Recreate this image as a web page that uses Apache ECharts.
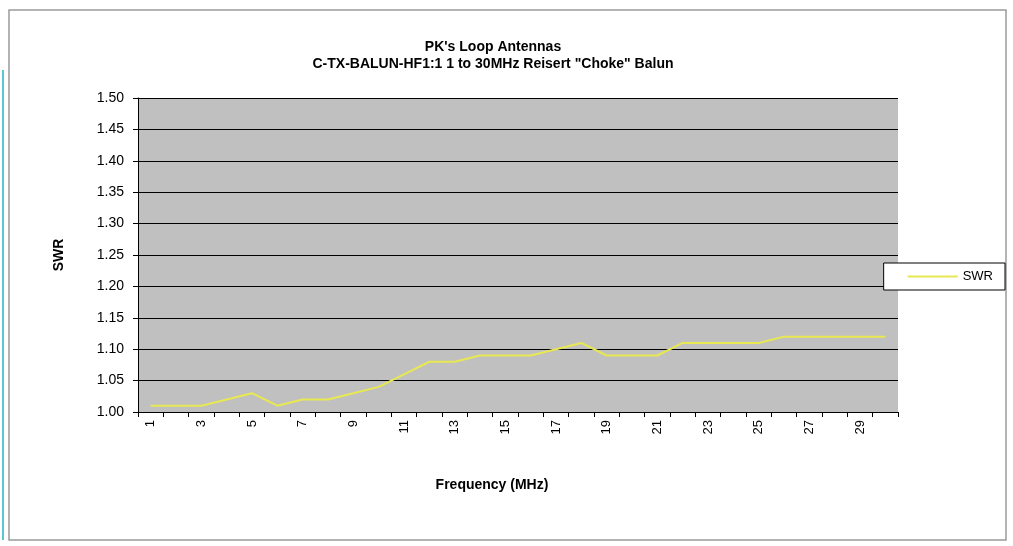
<!DOCTYPE html>
<html><head><meta charset="utf-8">
<script src="https://cdn.jsdelivr.net/npm/echarts@6/dist/echarts.min.js"></script>
<style>html,body{margin:0;padding:0;background:#fff;}#c{width:1013px;height:546px;}</style>
</head><body><div id="c"></div>
<script>
const categories = ['1','2','3','4','5','6','7','8','9','10','11','12','13','14','15','16','17','18','19','20','21','22','23','24','25','26','27','28','29','30'];
const swr = [1.01,1.01,1.01,1.02,1.03,1.01,1.02,1.02,1.03,1.04,1.06,1.08,1.08,1.09,1.09,1.09,1.10,1.11,1.09,1.09,1.09,1.11,1.11,1.11,1.11,1.12,1.12,1.12,1.12,1.12];
const yTicks = {min:1.0, max:1.5, interval:0.05};

const chart = echarts.init(document.getElementById('c'));
const font = 'Arial, "Liberation Sans", sans-serif';
chart.setOption({
  animation:false,
  backgroundColor:'#fff',
  graphic:[
    {type:'rect', shape:{x:9,y:10,width:997,height:530}, style:{fill:'none', stroke:'#9a9a9a', lineWidth:1.5}, z:-1},
    {type:'rect', shape:{x:2,y:70,width:2,height:470}, style:{fill:'#5bc8d0'}, z:-1}
  ],
  title:{
    text:"PK's Loop Antennas\nC-TX-BALUN-HF1:1 1 to 30MHz Reisert \"Choke\" Balun",
    left:488, textAlign:'center', top:34,
    textStyle:{fontFamily:font, fontSize:14, fontWeight:'bold', color:'#000', lineHeight:17}
  },
  legend:{
    right:8, top:263, orient:'vertical',
    backgroundColor:'#fff', borderColor:'#000', borderWidth:1,
    padding:[7,12,7,24], itemWidth:50, itemHeight:2, itemGap:0,
    textStyle:{fontFamily:font, fontSize:13, color:'#000'},
    data:[{name:'SWR', icon:'rect'}]
  },
  grid:{left:138, right:115, top:98, bottom:134, show:true, backgroundColor:'#c0c0c0', borderWidth:0},
  xAxis:{
    type:'category', data:categories, boundaryGap:true,
    name:'Frequency (MHz)', nameLocation:'middle', nameGap:66,
    nameTextStyle:{fontFamily:font, fontSize:14, fontWeight:'bold', color:'#000', padding:[0,52,0,0]},
    axisLine:{lineStyle:{color:'#000', width:1}},
    axisTick:{show:true, interval:0, length:5, lineStyle:{color:'#000'}},
    axisLabel:{interval:1, rotate:90, fontFamily:font, fontSize:13, color:'#000', margin:8},
    splitLine:{show:false}
  },
  yAxis:{
    type:'value', min:yTicks.min, max:yTicks.max, interval:yTicks.interval,
    name:'SWR', nameLocation:'middle', nameGap:72, nameRotate:90,
    nameTextStyle:{fontFamily:font, fontSize:14, fontWeight:'bold', color:'#000'},
    axisLine:{show:true, lineStyle:{color:'#000', width:1}},
    axisTick:{show:true, length:5, lineStyle:{color:'#000'}},
    axisLabel:{formatter:v=>v.toFixed(2), fontFamily:font, fontSize:14, color:'#000', margin:14},
    splitLine:{show:true, lineStyle:{color:'#000', width:1}}
  },
  series:[{
    name:'SWR', type:'line', data:swr, symbol:'none',
    lineStyle:{color:'#e8e852', width:2}, itemStyle:{color:'#e8e852'}
  }]
});
</script></body></html>
